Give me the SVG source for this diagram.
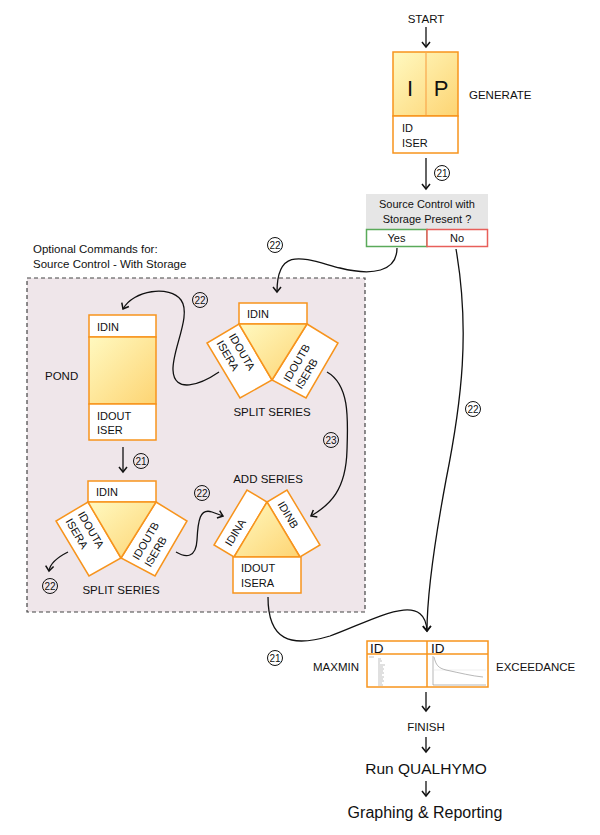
<svg xmlns="http://www.w3.org/2000/svg" width="600" height="835" viewBox="0 0 600 835">
<style>
text{font-family:"Liberation Sans",Arial,sans-serif;fill:#111}
.lbl{font-size:11.5px}
.sm{font-size:11px}
.cn{font-size:10px;text-anchor:middle}
.circ{fill:none;stroke:#111;stroke-width:1}
.box{fill:#fff;stroke:#f7941d;stroke-width:1.5}
.yel{fill:url(#yg);stroke:#f7941d;stroke-width:1.5}
.con{fill:none;stroke:#111;stroke-width:1.3}
</style>
<defs>
<linearGradient id="yg" x1="0" y1="0" x2="1" y2="1">
<stop offset="0" stop-color="#fff9c0"/>
<stop offset="1" stop-color="#fdd473"/>
</linearGradient>
<marker id="ah" markerUnits="userSpaceOnUse" markerWidth="12" markerHeight="12" refX="0" refY="0" viewBox="-8 -6 10 12" orient="auto">
<path d="M-5,-4 L0,0 L-5,4" fill="none" stroke="#111" stroke-width="1.5"/>
</marker>
</defs>
<rect width="600" height="835" fill="#fff"/>

<g id="region">
<rect x="27" y="278" width="338" height="334" fill="#efe6ea" stroke="#444" stroke-width="1.2" stroke-dasharray="4,3"/>
<text class="lbl" x="33" y="253">Optional Commands for:</text>
<text class="lbl" x="33" y="268">Source Control - With Storage</text>
</g>

<g id="start"><text class="lbl" x="426" y="23" text-anchor="middle">START</text></g>

<g id="generate">
<rect class="yel" x="393" y="52" width="65" height="64" stroke="#f9a84e"/>
<line x1="426" y1="52" x2="426" y2="116" stroke="#f9a84e" stroke-width="1.2"/>
<rect class="box" x="393" y="116" width="65" height="37" stroke="#f9a84e"/>
<text x="410" y="96" font-size="22" text-anchor="middle">I</text>
<text x="441" y="96" font-size="22" text-anchor="middle">P</text>
<text class="sm" x="402" y="132">ID</text>
<text class="sm" x="402" y="147">ISER</text>
<text class="lbl" x="469" y="99">GENERATE</text>
</g>

<g id="decision">
<rect x="366" y="194" width="122" height="35" fill="#e6e6e6"/>
<text class="sm" x="427" y="208" text-anchor="middle" font-size="10.5">Source Control with</text>
<text class="sm" x="427" y="223" text-anchor="middle" font-size="10.5">Storage Present ?</text>
<rect x="366.5" y="229.5" width="60.5" height="17" fill="#fff" stroke="#5aaa5a" stroke-width="1.5"/>
<rect x="427" y="229.5" width="60.5" height="17" fill="#fff" stroke="#e85f5a" stroke-width="1.5"/>
<text class="sm" x="396.5" y="242" text-anchor="middle">Yes</text>
<text class="sm" x="457" y="242" text-anchor="middle">No</text>
</g>

<g id="pond">
<rect class="box" x="89" y="315" width="67" height="22"/>
<rect class="yel" x="89" y="337" width="67" height="67"/>
<rect class="box" x="89" y="404" width="67" height="36"/>
<text class="sm" x="97" y="331">IDIN</text>
<text class="sm" x="97" y="420">IDOUT</text>
<text class="sm" x="97" y="434">ISER</text>
<text class="lbl" x="45" y="380">POND</text>
</g>

<g id="split1">
<rect class="box" x="239" y="303" width="68" height="21"/>
<polygon class="box" points="239,324 272,380 240,398 207,343"/>
<polygon class="box" points="307,324 338,343 306,398 272,380"/>
<polygon class="yel" points="239,324 307,324 272,380"/>
<text class="sm" x="247" y="318">IDIN</text>
<text class="sm" transform="translate(239.5,361) rotate(59.5)"><tspan x="-27" y="-3">IDOUTA</tspan><tspan x="-27" y="11">ISERA</tspan></text>
<text class="sm" transform="translate(305.75,361) rotate(-59.5)"><tspan x="-27" y="-3">IDOUTB</tspan><tspan x="-27" y="11">ISERB</tspan></text>
<text class="lbl" x="272" y="416" text-anchor="middle">SPLIT SERIES</text>
</g>

<g id="split2" transform="translate(-151,178)">
<rect class="box" x="239" y="303" width="68" height="21"/>
<polygon class="box" points="239,324 272,380 240,398 207,343"/>
<polygon class="box" points="307,324 338,343 306,398 272,380"/>
<polygon class="yel" points="239,324 307,324 272,380"/>
<text class="sm" x="247" y="318">IDIN</text>
<text class="sm" transform="translate(239.5,361) rotate(59.5)"><tspan x="-27" y="-3">IDOUTA</tspan><tspan x="-27" y="11">ISERA</tspan></text>
<text class="sm" transform="translate(305.75,361) rotate(-59.5)"><tspan x="-27" y="-3">IDOUTB</tspan><tspan x="-27" y="11">ISERB</tspan></text>
<text class="lbl" x="272" y="416" text-anchor="middle">SPLIT SERIES</text>
</g>

<g id="addseries">
<polygon class="box" points="234,557 267,502 247,490 214,545"/>
<polygon class="box" points="267,502 300,557 320,545 287,490"/>
<polygon class="yel" points="267,502 234,557 300,557"/>
<rect class="box" x="233" y="557" width="68" height="36"/>
<text class="sm" transform="translate(240.5,523.5) rotate(-59)" x="-25" y="4">IDINA</text>
<text class="sm" transform="translate(293.5,523.5) rotate(59)" x="-25" y="4">IDINB</text>
<text class="sm" x="241" y="572">IDOUT</text>
<text class="sm" x="241" y="587">ISERA</text>
<text class="lbl" x="268" y="483" text-anchor="middle">ADD SERIES</text>
</g>

<g id="maxmin">
<rect x="367" y="641" width="121" height="46" fill="#fff" stroke="#f7941d" stroke-width="1.5"/>
<line x1="367" y1="654" x2="488" y2="654" stroke="#f7941d" stroke-width="1.5"/>
<line x1="427" y1="641" x2="427" y2="687" stroke="#f7941d" stroke-width="1.5"/>
<text x="370" y="653" font-size="13.5">ID</text>
<text x="431" y="653" font-size="13.5">ID</text>
<g stroke="#999" stroke-width="0.6">
<line x1="369" y1="657" x2="374" y2="657"/>
<line x1="378" y1="659" x2="381" y2="659"/>
<line x1="378" y1="661" x2="382" y2="661"/>
<line x1="378" y1="663" x2="380" y2="663"/>
<line x1="378" y1="665" x2="385" y2="665"/>
<line x1="378" y1="667" x2="383" y2="667"/>
<line x1="378" y1="669" x2="384" y2="669"/>
<line x1="378" y1="671" x2="383" y2="671"/>
<line x1="378" y1="673" x2="384" y2="673"/>
<line x1="378" y1="675" x2="382" y2="675"/>
<line x1="378" y1="677" x2="384" y2="677"/>
<line x1="378" y1="679" x2="383" y2="679"/>
<line x1="378" y1="681" x2="384" y2="681"/>
<line x1="378" y1="683" x2="382" y2="683"/>
<line x1="378" y1="685" x2="383" y2="685"/>
</g>
<g fill="none" stroke="#999" stroke-width="0.7">
<line x1="433" y1="656" x2="433" y2="685"/>
<line x1="433" y1="685" x2="486" y2="685"/>
<line x1="433" y1="670" x2="486" y2="670" stroke="#ddd" stroke-width="0.5"/>
<path d="M434,657 C436,665 438,668 446,670 C460,673 472,676 483,677"/>
</g>
<text class="lbl" x="359" y="671" text-anchor="end">MAXMIN</text>
<text class="lbl" x="496" y="671">EXCEEDANCE</text>
</g>

<g id="finish"><text x="426" y="731" font-size="11.5" text-anchor="middle">FINISH</text></g>
<g id="run"><text x="426" y="774" font-size="15.5" text-anchor="middle">Run QUALHYMO</text></g>
<g id="graph"><text x="425" y="818" font-size="16" text-anchor="middle">Graphing &amp; Reporting</text></g>

<g id="connectors">
<path class="con" d="M426,27 V47" marker-end="url(#ah)"/>
<path class="con" d="M426,158 V189" marker-end="url(#ah)"/>
<path class="con" d="M397,248 C397,272 372,276 340,268 C305,259 277,245 277,292" marker-end="url(#ah)"/>
<path class="con" d="M456,249 C470,330 462,400 446,480 C433,550 427,600 427,631" marker-end="url(#ah)"/>
<path class="con" d="M219,372 C200,385 174,394 173,370 C172,350 192,315 181,300 C170,285 133,290 123,309" marker-end="url(#ah)"/>
<path class="con" d="M327,372 C350,385 348,420 347,450 C346,490 330,505 311,516" marker-end="url(#ah)"/>
<path class="con" d="M123,447 V472" marker-end="url(#ah)"/>
<path class="con" d="M68,552 C58,557 50,563 49,571" marker-end="url(#ah)"/>
<path class="con" d="M176,552 C186,558 196,558 197,540 C198,520 200,508 212,512 L223,516" marker-end="url(#ah)"/>
<path class="con" d="M268,597 C268,640 290,648 330,636 C370,622 425,588 427,631" marker-end="url(#ah)"/>
<path class="con" d="M426,692 V711" marker-end="url(#ah)"/>
<path class="con" d="M426,737 V752" marker-end="url(#ah)"/>
<path class="con" d="M426,781 V796" marker-end="url(#ah)"/>
<g id="numbers">
<circle class="circ" cx="442" cy="173" r="7.5"/><text class="cn" x="442" y="176.5">21</text>
<circle class="circ" cx="275" cy="245" r="7.5"/><text class="cn" x="275" y="248.5">22</text>
<circle class="circ" cx="200" cy="300" r="7.5"/><text class="cn" x="200" y="303.5">22</text>
<circle class="circ" cx="473" cy="409" r="7.5"/><text class="cn" x="473" y="412.5">22</text>
<circle class="circ" cx="331" cy="440" r="7.5"/><text class="cn" x="331" y="443.5">23</text>
<circle class="circ" cx="141" cy="461" r="7.5"/><text class="cn" x="141" y="464.5">21</text>
<circle class="circ" cx="202" cy="493" r="7.5"/><text class="cn" x="202" y="496.5">22</text>
<circle class="circ" cx="50" cy="586" r="7.5"/><text class="cn" x="50" y="589.5">22</text>
<circle class="circ" cx="275" cy="658" r="7.5"/><text class="cn" x="275" y="661.5">21</text>
</g>
</g>
</svg>
